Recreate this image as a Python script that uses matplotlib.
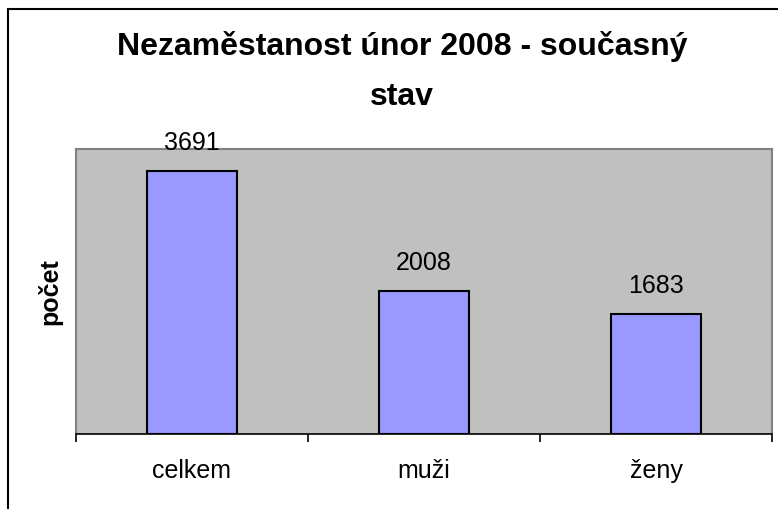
import matplotlib
matplotlib.use("Agg")
import matplotlib.pyplot as plt
from matplotlib.patches import Rectangle

# unemployment, February 2008
categories = ["celkem", "muži", "ženy"]
counts = [3691, 2008, 1683]
title_lines = ["Nezaměstanost únor 2008 - současný", "stav"]

plt.rcParams["font.family"] = ["Liberation Sans", "DejaVu Sans"]

fig = plt.figure(figsize=(7.78, 5.09), dpi=100)
ax = fig.add_axes([76 / 778, 1 - 434 / 509, 696 / 778, 285 / 509])
ax.set_facecolor("#C0C0C0")

x = range(len(categories))
bars = ax.bar(x, counts, width=0.39, color="#9999FF", edgecolor="black", linewidth=1.5, zorder=3)

for b, v in zip(bars, counts):
    ax.annotate(str(v), (b.get_x() + b.get_width() / 2, v), xytext=(0, 15),
                textcoords="offset points", ha="center", va="baseline",
                fontsize=18, annotation_clip=False)

ax.set_xlim(-0.5, len(categories) - 0.5)
ax.set_ylim(0, 4000)
ax.set_yticks([])
ax.set_xticks(list(x))
ax.set_xticklabels(categories, fontsize=18)
ax.tick_params(axis="x", which="major", length=0, pad=18)
ax.set_xticks([i - 0.5 for i in range(len(categories) + 1)], minor=True)
ax.tick_params(axis="x", which="minor", length=6, width=1.2, color="black", direction="out")

for side in ["top", "right", "left"]:
    ax.spines[side].set_color("#808080")
    ax.spines[side].set_linewidth(1.5)
ax.spines["bottom"].set_color("black")
ax.spines["bottom"].set_linewidth(1.2)

ax.set_ylabel("počet", fontsize=18, fontweight="bold", labelpad=10)

fig.text(402 / 778, 1 - 55 / 509, title_lines[0], ha="center", va="baseline",
         fontsize=23, fontweight="bold")
fig.text(402 / 778, 1 - 105 / 509, title_lines[1], ha="center", va="baseline",
         fontsize=23, fontweight="bold")

# chart frame
fig.patches.append(Rectangle((8 / 778, -0.1), 1.0, 1 - 9 / 509 + 0.1,
                             transform=fig.transFigure, fill=False,
                             edgecolor="black", linewidth=1.5))

fig.savefig("out.png", dpi=100)
